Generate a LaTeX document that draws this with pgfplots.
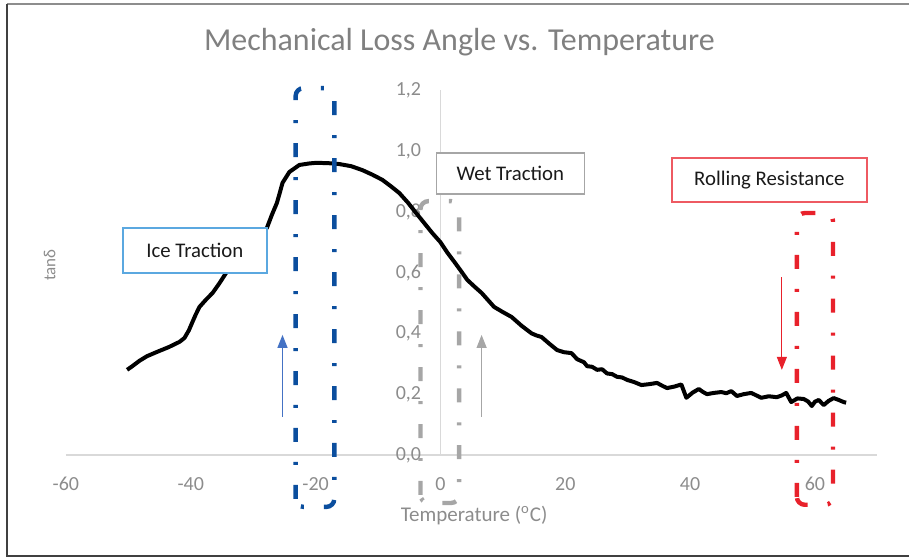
\documentclass[border=0pt]{standalone}
\usepackage{pgfplots}
\pgfplotsset{compat=1.18}
\usepackage{fontspec}
\setmainfont{Carlito}
\usetikzlibrary{arrows.meta}
\definecolor{axisgray}{HTML}{D9D9D9}
\definecolor{labelgray}{HTML}{8C8C8C}
\definecolor{titlegray}{HTML}{808080}
\definecolor{iceblue}{HTML}{0B4E9E}
\definecolor{arrowblue}{HTML}{4472C4}
\definecolor{boxblue}{HTML}{5BA8E0}
\definecolor{wetgray}{HTML}{A6A6A6}
\definecolor{rrred}{HTML}{E8212B}
\definecolor{boxred}{HTML}{EE5A62}
\definecolor{txtdark}{HTML}{1A1A1A}
\definecolor{framedark}{HTML}{404040}
\begin{document}
\begin{tikzpicture}
\begin{axis}[
  scale only axis, width=406pt, height=182.5pt,
  xmin=-60, xmax=70, ymin=0, ymax=1.2,
  clip=false,
  axis lines=middle,
  axis line style={draw=axisgray, line width=0.6pt, -},
  xtick={-60,-40,-20,0,20,40,60},
  ytick={0,0.2,0.4,0.6,0.8,1.0,1.2},
  major tick length=0pt,
  hide obscured x ticks=false, hide obscured y ticks=false,
  /pgf/number format/assume math mode=true,
  tick label style={font=\fontsize{10}{12}\selectfont, text=labelgray, inner sep=0pt},
  xticklabel style={anchor=center, yshift=-14.5pt, /pgf/number format/.cd, fixed, precision=0},
  yticklabel style={anchor=east, xshift=-9.5pt, /pgf/number format/.cd, fixed, fixed zerofill, precision=1, use comma},
]
% frame
\path (axis cs:-70.56,1.4967) rectangle (axis cs:75.04,-0.3421);
\draw[framedark!60, line width=1.2pt] (axis cs:-69.44,1.4836) -- (axis cs:75.04,1.4836);
\draw[framedark, line width=1.2pt] (axis cs:-69.44,1.4836) -- (axis cs:-69.44,-0.3322) -- (axis cs:75.04,-0.3322);
% title and labels
\node[text=titlegray, font=\fontsize{16}{19}\selectfont] at (axis cs:3.04,1.359) {Mechanical Loss Angle vs. Temperature};
\node[text=labelgray, font=\fontsize{8.5}{10}\selectfont, rotate=90] at (axis cs:-62.6,0.625) {tanδ};
\node[text=labelgray, font=\fontsize{10.5}{12}\selectfont] at (axis cs:5.4,-0.2) {Temperature (\textsuperscript{o}C)};
% curve
\addplot[black, line width=2pt, line join=round] coordinates {
(-50.2,0.280) (-49.5,0.290) (-48.2,0.310) (-47.0,0.325) (-45.4,0.339) (-43.5,0.355)
(-41.8,0.372) (-41.0,0.385) (-40.3,0.410) (-39.8,0.434) (-39.2,0.462) (-38.6,0.487)
(-37.6,0.510) (-36.5,0.533) (-35.4,0.565) (-34.3,0.600) (-33.0,0.640) (-31.5,0.680)
(-30.0,0.705) (-29.0,0.725) (-27.8,0.747) (-27.0,0.790) (-26.2,0.829) (-25.7,0.865)
(-25.3,0.895) (-24.2,0.931) (-22.6,0.954) (-21.0,0.959) (-19.9,0.961) (-18.0,0.960)
(-16.2,0.957) (-14.3,0.950) (-12.5,0.937) (-10.9,0.922) (-9.3,0.905) (-8.0,0.885)
(-6.6,0.862) (-5.2,0.830) (-3.9,0.796) (-2.6,0.763) (-1.3,0.730) (0.0,0.700)
(1.1,0.666) (2.2,0.636) (3.3,0.605) (4.3,0.576) (5.5,0.553) (6.6,0.533)
(7.6,0.510) (8.6,0.487) (10.0,0.470) (11.4,0.454) (13.0,0.425) (14.6,0.400)
(15.4,0.393) (16.2,0.388) (17.5,0.365) (18.7,0.345) (19.8,0.338) (21.0,0.335)
(21.9,0.315) (23.0,0.305) (23.5,0.292) (24.3,0.290) (25.1,0.280) (25.9,0.282)
(26.7,0.268) (27.5,0.266) (28.3,0.257) (29.1,0.255) (29.9,0.247) (31.0,0.240)
(32.2,0.230) (33.5,0.233) (34.7,0.237) (35.5,0.228) (36.3,0.220) (37.5,0.225)
(38.6,0.232) (39.4,0.188) (40.4,0.205) (41.4,0.217) (42.0,0.208) (42.7,0.200)
(43.8,0.204) (45.0,0.207) (45.8,0.203) (46.6,0.210) (47.5,0.194) (48.6,0.200)
(49.8,0.204) (50.6,0.196) (51.4,0.188) (52.6,0.193) (53.9,0.190) (54.7,0.196)
(55.4,0.204) (56.2,0.174) (57.2,0.186) (58.2,0.184) (58.9,0.176) (59.5,0.161)
(60.0,0.175) (60.6,0.181) (61.4,0.164) (62.2,0.178) (63.0,0.187) (63.8,0.181)
(64.6,0.174) (65.0,0.172)
};
% dash-dot regions
\tikzset{dd/.style={line width=2.2pt, rounded corners=4pt, dash pattern=on 7pt off 10pt on 1.5pt off 10pt}}
\draw[dd, iceblue] (axis cs:-23.2,-0.171) rectangle (axis cs:-17.0,1.207);
\draw[dd, wetgray] (axis cs:-3.2,-0.158) rectangle (axis cs:3.0,0.835);
\draw[dd, rrred] (axis cs:57.1,-0.164) rectangle (axis cs:62.9,0.796);
% arrows
\draw[arrowblue, line width=0.6pt, -{Triangle[length=6.5pt,width=5pt]}] (axis cs:-25.3,0.125) -- (axis cs:-25.3,0.395);
\draw[wetgray, line width=0.6pt, -{Triangle[length=6.5pt,width=5pt]}] (axis cs:6.6,0.125) -- (axis cs:6.6,0.395);
\draw[rrred, line width=0.6pt, -{Triangle[length=6.5pt,width=5pt]}] (axis cs:54.7,0.585) -- (axis cs:54.7,0.28);
% boxes
\node[draw=boxblue, fill=white, line width=0.75pt, minimum width=72pt, minimum height=22.5pt, inner sep=0pt, text=txtdark, font=\fontsize{10.4}{12}\selectfont] at (axis cs:-39.35,0.673) {Ice Traction};
\node[draw=wetgray, fill=white, line width=0.75pt, minimum width=74pt, minimum height=20.5pt, inner sep=0pt, text=txtdark, font=\fontsize{10.4}{12}\selectfont] at (axis cs:11.2,0.926) {Wet Traction};
\node[draw=boxred, fill=white, line width=0.75pt, minimum width=97.5pt, minimum height=22pt, inner sep=0pt, text=txtdark, font=\fontsize{10.4}{12}\selectfont] at (axis cs:52.7,0.905) {Rolling Resistance};
\end{axis}
\end{tikzpicture}
\end{document}
